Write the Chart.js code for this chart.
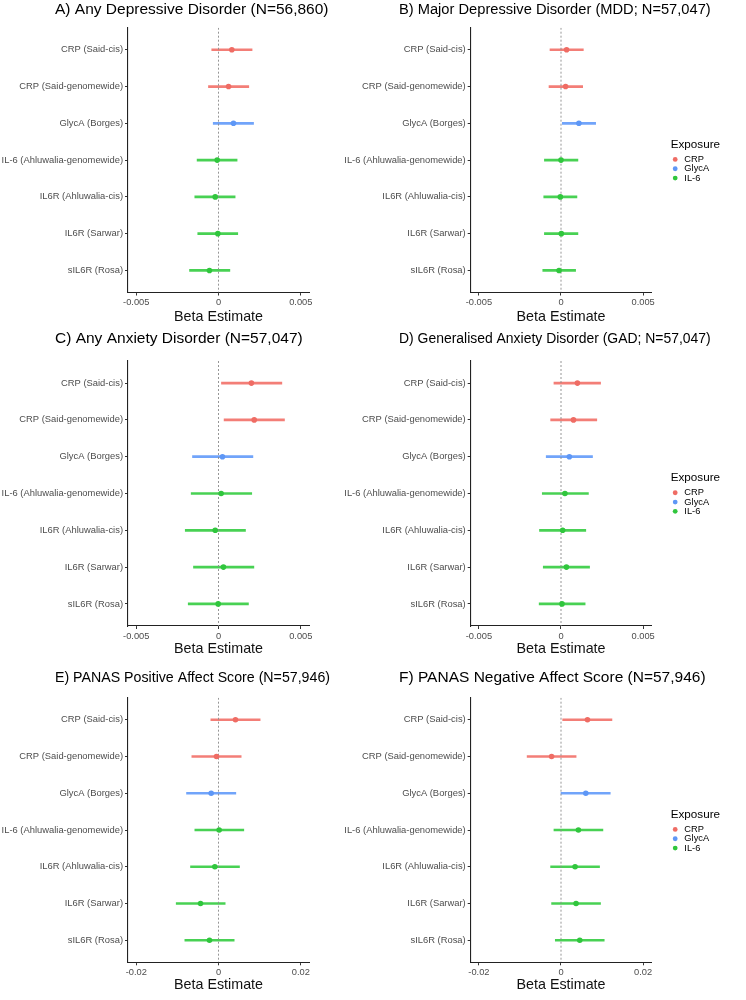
<!DOCTYPE html>
<html>
<head>
<meta charset="utf-8">
<title>Inflammatory markers forest plots</title>
<script src="https://cdn.jsdelivr.net/npm/chart.js@4.4.1/dist/chart.umd.min.js"></script>
<style>
  html, body { margin: 0; padding: 0; background: #fff; }
  #wrap { position: relative; width: 746px; height: 1000px; overflow: hidden; }
  #wrap canvas { position: absolute; }
</style>
</head>
<body>
<div id="wrap"></div>
<script>
// exposures (rows, top to bottom) and their group
const rowLabels = ['CRP (Said-cis)', 'CRP (Said-genomewide)', 'GlycA (Borges)',
  'IL-6 (Ahluwalia-genomewide)', 'IL6R (Ahluwalia-cis)', 'IL6R (Sarwar)', 'sIL6R (Rosa)'];
const rowExposure = ['CRP', 'CRP', 'GlycA', 'IL-6', 'IL-6', 'IL-6', 'IL-6'];
const exposures = ['CRP', 'GlycA', 'IL-6'];

const panelTitles = [
  'A) Any Depressive Disorder (N=56,860)',
  'B) Major Depressive Disorder (MDD; N=57,047)',
  'C) Any Anxiety Disorder (N=57,047)',
  'D) Generalised Anxiety Disorder (GAD; N=57,047)',
  'E) PANAS Positive Affect Score (N=57,946)',
  'F) PANAS Negative Affect Score (N=57,946)'
];

// beta estimates and 95% CI
const estA  = [0.00081, 0.00061, 0.00091, -0.00008, -0.00020, -0.00004, -0.00055];
const lowA  = [-0.00043, -0.00063, -0.00034, -0.00132, -0.00146, -0.00128, -0.00178];
const highA = [0.00206, 0.00186, 0.00215, 0.00115, 0.00103, 0.00119, 0.00071];

const estB  = [0.00034, 0.00028, 0.00109, 0.00000, -0.00004, 0.00002, -0.00012];
const lowB  = [-0.00069, -0.00075, 0.00006, -0.00103, -0.00107, -0.00103, -0.00113];
const highB = [0.00138, 0.00134, 0.00213, 0.00105, 0.00099, 0.00105, 0.00091];

const estC  = [0.00200, 0.00217, 0.00024, 0.00016, -0.00020, 0.00030, -0.00002];
const lowC  = [0.00016, 0.00032, -0.00160, -0.00168, -0.00204, -0.00154, -0.00186];
const highC = [0.00387, 0.00403, 0.00211, 0.00204, 0.00166, 0.00217, 0.00184];

const estD  = [0.00100, 0.00076, 0.00051, 0.00024, 0.00010, 0.00033, 0.00006];
const lowD  = [-0.00045, -0.00065, -0.00092, -0.00116, -0.00133, -0.00110, -0.00135];
const highD = [0.00243, 0.00220, 0.00194, 0.00169, 0.00153, 0.00176, 0.00149];

const estE  = [0.00413, -0.00049, -0.00178, 0.00016, -0.00089, -0.00437, -0.00219];
const lowE  = [-0.00194, -0.00656, -0.00785, -0.00583, -0.00688, -0.01036, -0.00826];
const highE = [0.01020, 0.00559, 0.00429, 0.00623, 0.00518, 0.00170, 0.00389];

const estF  = [0.00645, -0.00229, 0.00604, 0.00424, 0.00343, 0.00367, 0.00457];
const lowF  = [0.00033, -0.00833, -0.00008, -0.00180, -0.00261, -0.00237, -0.00147];
const highF = [0.01249, 0.00376, 0.01208, 0.01029, 0.00947, 0.00971, 0.01061];

const smallTicks = [-0.005, 0, 0.005];
const panasTicks = [-0.02, 0, 0.02];
const smallLimit = 0.0055;
const panasLimit = 0.022;

const FONT = '"Liberation Sans", Arial, Helvetica, sans-serif';
Chart.defaults.font.family = FONT;

const pointColours = { CRP: '#ef6c64', GlycA: '#5e97f6', 'IL-6': '#30c63d' };
const lineColours = { CRP: 'rgba(242,112,104,0.9)', GlycA: 'rgba(98,154,250,0.9)', 'IL-6': 'rgba(52,204,64,0.9)' };

// page layout (px)
const rows = [
  { top: 0,   titleY: 9.5,   chartTop: 27.7,  chartBottom: 292.5, xTitleY: 316.5 },
  { top: 322, titleY: 338.3, chartTop: 361,   chartBottom: 626,   xTitleY: 648.5 },
  { top: 652, titleY: 677.7, chartTop: 697.7, chartBottom: 962.3, xTitleY: 985 }
];
const cols = [
  { left: 0,   width: 330, titleX: 55,  chartLeft: 128,   chartRight: 309 },
  { left: 330, width: 416, titleX: 399, chartLeft: 470.7, chartRight: 651.3, legendX: 670.7 }
];
const LEGEND_W = 40;

const panels = [
  { est: estA, low: lowA, high: highA, lim: smallLimit, ticks: smallTicks },
  { est: estB, low: lowB, high: highB, lim: smallLimit, ticks: smallTicks },
  { est: estC, low: lowC, high: highC, lim: smallLimit, ticks: smallTicks },
  { est: estD, low: lowD, high: highD, lim: smallLimit, ticks: smallTicks },
  { est: estE, low: lowE, high: highE, lim: panasLimit, ticks: panasTicks },
  { est: estF, low: lowF, high: highF, lim: panasLimit, ticks: panasTicks }
];

// let the long row labels and the legend title run past their boxes, like ggplot does
const noLabelClip = {
  id: 'noLabelClip',
  afterLayout(chart) {
    const y = chart.scales.y;
    y.left = 0;
    y.width = y.right;
    if (chart.options.plugins.legend.display) {
      chart.legend.right = chart.width;
      chart.legend.width = chart.legend.right - chart.legend.left;
    }
  }
};

function buildDatasets(p) {
  const ds = rowLabels.map((lab, i) => ({
    label: lab,
    data: [{ x: p.low[i], y: i }, { x: p.high[i], y: i }],
    showLine: true,
    borderColor: lineColours[rowExposure[i]],
    borderWidth: 2.7,
    borderCapStyle: 'butt',
    pointRadius: 0,
    order: 3
  }));
  ds.push({
    label: 'zero',
    data: [{ x: 0, y: -0.6 }, { x: 0, y: rowLabels.length - 0.4 }],
    showLine: true,
    borderColor: '#8a8a8a',
    borderWidth: 0.9,
    borderDash: [2, 2],
    pointRadius: 0,
    order: 2
  });
  ds.push({
    label: 'estimate',
    data: p.est.map((v, i) => ({ x: v, y: i })),
    backgroundColor: p.est.map((v, i) => pointColours[rowExposure[i]]),
    borderWidth: 0,
    pointRadius: 2.8,
    order: 1
  });
  return ds;
}

const wrap = document.getElementById('wrap');

panels.forEach((p, k) => {
  const row = rows[Math.floor(k / 2)];
  const col = cols[k % 2];
  const H = Math.round(row.xTitleY - row.top + 12);
  const padLeft = col.titleX - col.left;
  const hasLegend = col.legendX !== undefined;
  const padRight = hasLegend ? col.width - (col.legendX - col.left) - LEGEND_W : 0;
  const spacerW = hasLegend ? col.legendX - col.chartRight : col.left + col.width - col.chartRight;
  const tTop = row.titleY - row.top - 9.3;
  const tBottom = row.chartTop - row.top - tTop - 18.6;

  const cv = document.createElement('canvas');
  cv.width = col.width;
  cv.height = H;
  cv.style.left = col.left + 'px';
  cv.style.top = row.top + 'px';
  wrap.appendChild(cv);

  new Chart(cv, {
    type: 'scatter',
    data: { datasets: buildDatasets(p) },
    plugins: [noLabelClip],
    options: {
      responsive: false,
      animation: false,
      layout: { padding: { left: padLeft, right: padRight, top: 0, bottom: 0 } },
      scales: {
        x: {
          type: 'linear',
          min: -p.lim,
          max: p.lim,
          afterBuildTicks: s => { s.ticks = p.ticks.map(v => ({ value: v })); },
          afterFit: s => { s.height = H - (row.chartBottom - row.top); },
          ticks: {
            callback: v => (v === 0 ? '0' : String(v)),
            color: '#4d4d4d',
            font: { size: 9.3 },
            padding: 1.5,
            maxRotation: 0
          },
          grid: { display: true, drawOnChartArea: false, tickLength: 3, color: '#333' },
          border: { display: true, color: '#222', width: 1.1 },
          title: {
            display: true,
            text: 'Beta Estimate',
            color: '#111',
            font: { size: 14.3 },
            padding: { top: 0, bottom: 3.4 }
          }
        },
        y: {
          type: 'linear',
          reverse: true,
          min: -0.6,
          max: rowLabels.length - 0.4,
          afterBuildTicks: s => { s.ticks = rowLabels.map((l, i) => ({ value: i })); },
          afterFit: s => { s.width = col.chartLeft - col.titleX; },
          ticks: {
            callback: v => rowLabels[v],
            color: '#4d4d4d',
            font: { size: 9.4 },
            padding: 2,
            autoSkip: false
          },
          grid: { display: true, drawOnChartArea: false, tickLength: 3, color: '#333' },
          border: { display: true, color: '#222', width: 1.1 }
        },
        spacer: {
          type: 'linear',
          axis: 'y',
          position: 'right',
          grid: { display: false },
          border: { display: false },
          ticks: { display: false },
          afterFit: s => { s.width = spacerW; }
        }
      },
      plugins: {
        title: {
          display: true,
          text: panelTitles[k],
          align: 'start',
          color: '#000',
          font: { size: 15.5, weight: 'normal' },
          padding: { top: tTop, bottom: tBottom }
        },
        legend: {
          display: hasLegend,
          position: 'right',
          align: 'start',
          maxWidth: LEGEND_W,
          title: {
            display: true,
            text: 'Exposure',
            position: 'start',
            color: '#000',
            font: { size: 11.7 },
            padding: { top: row.chartTop - row.top + 116.8 - 5.85, bottom: 2.1 }
          },
          labels: {
            usePointStyle: true,
            boxWidth: 9,
            boxHeight: 3.4,
            padding: 0,
            color: '#1a1a1a',
            font: { size: 9.3 },
            generateLabels: () => exposures.map(e => ({
              text: e,
              fillStyle: pointColours[e],
              strokeStyle: pointColours[e],
              lineWidth: 0,
              pointStyle: 'circle',
              hidden: false
            }))
          }
        },
        tooltip: { enabled: false }
      }
    }
  });
});
</script>
</body>
</html>
